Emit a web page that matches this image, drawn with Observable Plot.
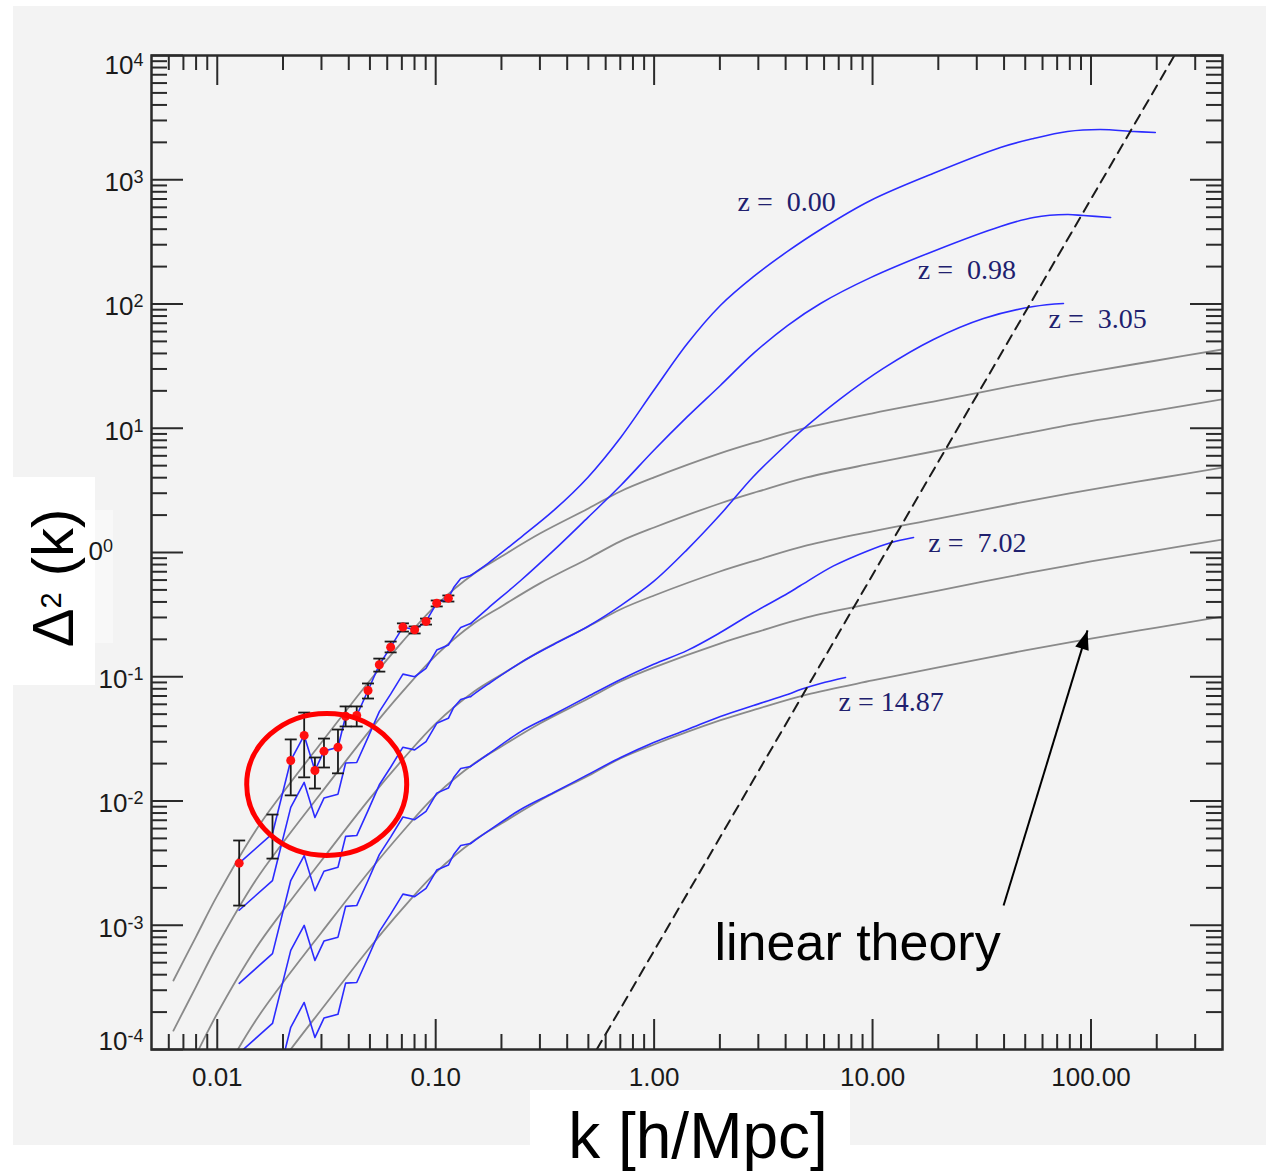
<!DOCTYPE html>
<html>
<head>
<meta charset="utf-8">
<script src="https://cdn.jsdelivr.net/npm/d3@7"></script>
<script src="https://cdn.jsdelivr.net/npm/@observablehq/plot@0.6"></script>
<style>
  html, body { margin: 0; padding: 0; background: #fff; }
  #page { position: relative; width: 1270px; height: 1175px; overflow: hidden;
          font-family: "Liberation Sans", Arial, Helvetica, sans-serif; }
  #panel { position: absolute; left: 13px; top: 6px; width: 1253px; height: 1139px; background: #f3f3f3; }
  #chart { position: absolute; left: 0; top: 0; }
  .box { position: absolute; background: #fff; }
  #ylabel { position: absolute; left: 53px; top: 578px; transform: translate(-50%, -50%) rotate(-90deg);
            font-size: 58px; line-height: 1; white-space: nowrap; color: #000; }
  #ylabel .sup { font-size: 0.5em; position: relative; top: -0.43em; }
  #xlabel { position: absolute; left: 698px; top: 1104px; transform: translateX(-50%);
            font-size: 64px; line-height: 1; white-space: nowrap; color: #000; }
  #unitLabel { position: absolute; right: 1157px; top: 538px; font-size: 26px; line-height: 1;
               white-space: nowrap; color: #1a1a1a; }
  #unitLabel .sup { font-size: 18px; position: relative; top: -8px; }
</style>
</head>
<body>
<div id="page">
  <div id="panel"></div>
  <div id="chart"></div>
  <div class="box" style="left:13px;top:477px;width:82px;height:208px"></div>
  <div class="box" style="left:95px;top:510px;width:18px;height:133px;background:#f8f8f8"></div>
  <div id="unitLabel">0<span class="sup">0</span></div>
  <div id="ylabel">Δ<span class="sup">2</span> (k)</div>
  <div class="box" style="left:530px;top:1090px;width:320px;height:85px"></div>
  <div id="xlabel">k [h/Mpc]</div>
</div>
<script>
// ---- linear-theory spectra (gray), one per redshift ----
const kLinear = [0.0063, 0.008, 0.01, 0.015, 0.02, 0.03, 0.05, 0.07, 0.1, 0.15, 0.2, 0.3, 0.5, 0.7, 1, 2, 3, 5, 10, 20, 50, 100, 200, 400];
const linZ000 = [3.59e-4, 8.11e-4, 1.73e-3, 5.79e-3, 0.0117, 0.0296, 0.0933, 0.189, 0.374, 0.678, 0.929, 1.42, 2.26, 3.10, 4.02, 6.27, 7.82, 10.1, 13.2, 16.7, 22.9, 28.6, 35.1, 43.1];
const linZ098 = [1.42e-4, 3.21e-4, 6.87e-4, 2.30e-3, 4.63e-3, 0.0117, 0.0370, 0.0748, 0.148, 0.269, 0.368, 0.564, 0.896, 1.23, 1.59, 2.48, 3.10, 4.02, 5.21, 6.62, 9.08, 11.4, 13.9, 17.1];
const linZ305 = [4.03e-5, 9.10e-5, 1.95e-4, 6.50e-4, 1.31e-3, 3.32e-3, 0.0105, 0.0212, 0.0420, 0.0760, 0.104, 0.160, 0.254, 0.348, 0.451, 0.703, 0.877, 1.14, 1.48, 1.87, 2.57, 3.21, 3.94, 4.83];
const linZ702 = [1.06e-5, 2.40e-5, 5.13e-5, 1.71e-4, 3.46e-4, 8.75e-4, 2.76e-3, 5.58e-3, 0.0111, 0.0200, 0.0275, 0.0421, 0.0668, 0.0916, 0.119, 0.185, 0.231, 0.300, 0.389, 0.494, 0.678, 0.847, 1.04, 1.27];
const linZ1487 = [2.55e-6, 5.75e-6, 1.23e-5, 4.11e-5, 8.30e-5, 2.10e-4, 6.62e-4, 1.34e-3, 2.65e-3, 4.81e-3, 6.59e-3, 0.0101, 0.0160, 0.0220, 0.0285, 0.0445, 0.0555, 0.0719, 0.0933, 0.119, 0.163, 0.203, 0.249, 0.305];

// ---- simulation spectra (blue) ----
const kBins = [0.0126, 0.0179, 0.0217, 0.0250, 0.0280, 0.0308, 0.0357, 0.0387, 0.0435, 0.0490, 0.0552, 0.0622, 0.0708, 0.0801, 0.0903, 0.1011, 0.1143];

const simKZ000 = kBins.concat([0.1209, 0.1302, 0.1445, 0.173, 0.245, 0.347, 0.497, 0.703, 0.995, 1.42, 2.01, 2.85, 4.08, 5.78, 9.79, 19.4, 38.5, 54.6, 78.0, 110, 157, 197]);
const simZ000 = [3.16e-3, 5.47e-3, 0.0212, 0.0337, 0.0176, 0.0252, 0.0271, 0.0481, 0.0488, 0.0775, 0.125, 0.173, 0.251, 0.239, 0.279, 0.391, 0.429,
                 0.522, 0.618, 0.653, 0.815, 1.32, 2.18, 4.02, 8.43, 20.1, 48.1, 97.3, 166, 265, 398, 681, 1143, 1818, 2148, 2445, 2537, 2445, 2399];

const simKZ098 = kBins.concat([0.1209, 0.1302, 0.1445, 0.173, 0.245, 0.347, 0.497, 0.703, 0.995, 1.42, 2.01, 2.85, 4.08, 5.78, 9.79, 19.4, 38.5, 54.6, 78.0, 92.4, 123]);
const simZ098 = [1.32e-3, 2.29e-3, 8.88e-3, 0.0141, 7.37e-3, 0.01056, 0.01135, 0.0202, 0.0204, 0.0325, 0.0524, 0.0725, 0.105, 0.100, 0.117, 0.164, 0.180,
                 0.211, 0.249, 0.268, 0.354, 0.595, 1.04, 1.91, 3.46, 6.62, 12.4, 22.1, 40.0, 67.1, 101, 163, 270, 421, 497, 525, 515, 497];

const simKZ305 = kBins.concat([0.1209, 0.1302, 0.1445, 0.173, 0.245, 0.347, 0.497, 0.703, 0.995, 1.42, 2.01, 2.85, 4.08, 4.68, 7.14, 11.2, 19.0, 32.2, 54.6, 74.8]);
const simZ305 = [3.41e-4, 5.91e-4, 2.29e-3, 3.64e-3, 1.90e-3, 2.72e-3, 2.93e-3, 5.19e-3, 5.27e-3, 8.37e-3, 0.0135, 0.0187, 0.0271, 0.0258, 0.0301, 0.0422, 0.0463,
                 0.0566, 0.0656, 0.0693, 0.0867, 0.130, 0.182, 0.254, 0.374, 0.585, 1.06, 2.02, 4.09, 7.54, 9.42, 17.3, 30.3, 51.8, 76.4, 95.5, 101];

const simKZ702 = kBins.concat([0.1209, 0.1302, 0.1445, 0.173, 0.245, 0.347, 0.497, 0.703, 0.995, 1.42, 2.01, 2.85, 4.08, 4.68, 6.63, 9.49, 12.1, 15.4]);
const simZ702 = [9.35e-5, 1.62e-4, 6.28e-4, 9.98e-4, 5.21e-4, 7.46e-4, 8.02e-4, 1.42e-3, 1.44e-3, 2.29e-3, 3.70e-3, 5.12e-3, 7.43e-3, 7.07e-3, 8.26e-3, 0.01157, 0.0127,
                 0.01545, 0.01828, 0.01897, 0.02366, 0.0362, 0.0497, 0.0693, 0.0951, 0.126, 0.163, 0.227, 0.329, 0.468, 0.542, 0.780, 1.03, 1.20, 1.32];

const simKZ1487 = kBins.concat([0.1209, 0.1302, 0.1445, 0.173, 0.245, 0.347, 0.497, 0.703, 0.995, 1.42, 2.01, 2.85, 4.08, 4.68, 5.78, 7.52]);
const simZ1487 = [2.24e-5, 3.88e-5, 1.51e-4, 2.39e-4, 1.25e-4, 1.79e-4, 1.92e-4, 3.42e-4, 3.46e-4, 5.50e-4, 8.88e-4, 1.23e-3, 1.78e-3, 1.70e-3, 1.98e-3, 2.78e-3, 3.05e-3,
                  3.71e-3, 4.39e-3, 4.55e-3, 5.69e-3, 8.55e-3, 0.0117, 0.0163, 0.0224, 0.0296, 0.0376, 0.0479, 0.0587, 0.0719, 0.0789, 0.0883, 0.0986];

// ---- measured band powers with 1-sigma errors ----
const obsK    = [0.0126, 0.0179, 0.0217, 0.0250, 0.0280, 0.0308, 0.0357, 0.0387, 0.0435, 0.0490, 0.0552, 0.0622, 0.0708, 0.0801, 0.0903, 0.1011, 0.1143];
const obsD    = [3.16e-3, 5.47e-3, 0.0212, 0.0337, 0.0176, 0.0252, 0.0271, 0.0481, 0.0488, 0.0775, 0.125, 0.173, 0.251, 0.239, 0.279, 0.391, 0.429];
const obsLo   = [1.44e-3, 3.44e-3, 0.0111, 0.0155, 0.0126, 0.0186, 0.0167, 0.0398, 0.0398, 0.0668, 0.110, 0.157, 0.231, 0.223, 0.263, 0.368, 0.403];
const obsHi   = [4.81e-3, 7.78e-3, 0.0313, 0.0515, 0.0224, 0.0318, 0.0376, 0.0577, 0.0577, 0.0883, 0.140, 0.192, 0.269, 0.254, 0.294, 0.411, 0.451];
const obsMark = [true, false, true, true, true, true, true, true, true, true, true, true, true, true, true, true, true];

// ---- shot-noise level (k^3) ----
const noiseK = [0.546, 241];
const noiseD = [1e-4, 1e4];

// ---- annotations ----
const zText = ["z = \u00a00.00", "z = \u00a00.98", "z = \u00a03.05", "z = \u00a07.02", "z = 14.87"];
const zTextK = [2.41, 16.1, 63.9, 18.0, 6.99];
const zTextD = [656, 186, 75.0, 1.20, 0.0621];
const noteText = "linear theory";
const noteK = 1.89, noteD = 7.1e-4;
const arrowFrom = {k: 39.8, d: 1.44e-3}, arrowTo = {k: 96.4, d: 0.236};
const ringCenter = {k: 0.0317, d: 0.0136};

// ---- axis ticks ----
const xMajor = [0.01, 0.1, 1, 10, 100];
const xTickLabels = ["0.01", "0.10", "1.00", "10.00", "100.00"];
const yMajor = [1e-4, 1e-3, 1e-2, 1e-1, 1, 10, 100, 1000, 10000];
const yExponents = [-4, -3, -2, -1, 0, 1, 2, 3, 4];

const xDomain = [0.005, 400], yDomain = [1e-4, 1e4];
const minorOf = (lo, hi) => {
  const out = [];
  for (let e = Math.floor(Math.log10(lo)); e <= Math.ceil(Math.log10(hi)); e++)
    for (let m = 2; m <= 9; m++) { const v = m * Math.pow(10, e); if (v > lo * 1.0001 && v < hi * 0.9999) out.push(v); }
  return out;
};
const xMinor = minorOf(...xDomain);
const yMinor = minorOf(...yDomain);

const rows = (ks, ds) => ks.map((k, i) => ({k, d: ds[i]}));
const linear = [linZ000, linZ098, linZ305, linZ702, linZ1487].map(s => rows(kLinear, s));
const sims = [[simKZ000, simZ000], [simKZ098, simZ098], [simKZ305, simZ305], [simKZ702, simZ702], [simKZ1487, simZ1487]].map(([k, d]) => rows(k, d));
const obs = obsK.map((k, i) => ({k, d: obsD[i], lo: obsLo[i], hi: obsHi[i], mark: obsMark[i]}));
const labels = zText.map((t, i) => ({t, k: zTextK[i], d: zTextD[i]}));
const yLabelTicks = yMajor.filter(v => v !== 1);   // the 10^0 label sits beside the axis title

// the noisy low-k bins are joined point to point; the smooth tail uses a spline
const splitAt = 19;
const simLow = sims.map(s => s.slice(0, splitAt + 1));
const simHigh = sims.map(s => s.slice(splitAt));

const W = 1270, H = 1175;
const M = {top: 55, right: 48, bottom: 126, left: 151};
const innerW = W - M.left - M.right, innerH = H - M.top - M.bottom;
const tickColor = "#2a2a2a";
const blue = "#2b2bff";

// custom symbols: error-bar cap, annotation ring, filled arrow head
const capSymbol = {draw(ctx) { ctx.moveTo(-6, 0); ctx.lineTo(6, 0); }};
const ringSymbol = {draw(ctx) {
  const a = 80, b = 71, c = 0.5523;
  ctx.moveTo(a, 0);
  ctx.bezierCurveTo(a, b * c, a * c, b, 0, b);
  ctx.bezierCurveTo(-a * c, b, -a, b * c, -a, 0);
  ctx.bezierCurveTo(-a, -b * c, -a * c, -b, 0, -b);
  ctx.bezierCurveTo(a * c, -b, a, -b * c, a, 0);
  ctx.closePath();
}};
const headSymbol = {draw(ctx) { ctx.moveTo(0, 0); ctx.lineTo(7, 19); ctx.lineTo(-7, 19); ctx.closePath(); }};

const fontSans = "'Liberation Sans', Arial, Helvetica, sans-serif";
const expFormat = d => "10^" + yExponents[yMajor.indexOf(d)];

const chart = Plot.plot({
  width: W, height: H,
  marginTop: M.top, marginRight: M.right, marginBottom: M.bottom, marginLeft: M.left,
  x: {type: "log", domain: xDomain},
  y: {type: "log", domain: yDomain},
  style: {background: "none", color: "#1a1a1a", fontFamily: fontSans, overflow: "visible"},
  marks: [
    // linear theory
    ...linear.map(s => Plot.line(s, {x: "k", y: "d", stroke: "#8a8a8a", strokeWidth: 1.8, curve: "catmull-rom", clip: true})),
    // simulations
    ...simLow.map(s => Plot.line(s, {x: "k", y: "d", stroke: blue, strokeWidth: 1.6, clip: true})),
    ...simHigh.map(s => Plot.line(s, {x: "k", y: "d", stroke: blue, strokeWidth: 1.6, curve: "catmull-rom", clip: true})),
    // shot noise
    Plot.line(rows(noiseK, noiseD), {x: "k", y: "d", stroke: "#1a1a1a", strokeWidth: 2, strokeDasharray: "10,7", clip: true}),
    // error bars and points
    Plot.ruleX(obs, {x: "k", y1: "lo", y2: "hi", stroke: "#1a1a1a", strokeWidth: 1.8}),
    Plot.dot(obs, {x: "k", y: "lo", symbol: capSymbol, fill: "none", stroke: "#1a1a1a", strokeWidth: 1.8}),
    Plot.dot(obs, {x: "k", y: "hi", symbol: capSymbol, fill: "none", stroke: "#1a1a1a", strokeWidth: 1.8}),
    Plot.dot(obs.filter(o => o.mark), {x: "k", y: "d", r: 4.5, fill: "#ff1010", stroke: "none"}),
    // highlighted region
    Plot.dot([ringCenter], {x: "k", y: "d", symbol: ringSymbol, fill: "none", stroke: "#ff0000", strokeWidth: 5}),
    // redshift labels
    Plot.text(labels, {x: "k", y: "d", text: "t", textAnchor: "start", fontFamily: "'Liberation Serif', 'Times New Roman', serif", fontSize: 28, fill: "#20206e"}),
    // "linear theory" note with arrow
    Plot.text([{k: noteK, d: noteD}], {x: "k", y: "d", text: () => noteText, textAnchor: "start", fontSize: 52, fill: "#000"}),
    Plot.link([{a: arrowFrom, b: arrowTo}], {x1: o => o.a.k, y1: o => o.a.d, x2: o => o.b.k, y2: o => o.b.d, stroke: "#000", strokeWidth: 2}),
    Plot.dot([arrowTo], {x: "k", y: "d", symbol: headSymbol, rotate: 17, fill: "#000", stroke: "none"}),
    // inward ticks on all four sides
    Plot.tickX(xMinor, {x: d => d, insetTop: innerH - 15, stroke: tickColor, strokeWidth: 2}),
    Plot.tickX(xMinor, {x: d => d, insetBottom: innerH - 15, stroke: tickColor, strokeWidth: 2}),
    Plot.tickX(xMajor, {x: d => d, insetTop: innerH - 30, stroke: tickColor, strokeWidth: 2}),
    Plot.tickX(xMajor, {x: d => d, insetBottom: innerH - 30, stroke: tickColor, strokeWidth: 2}),
    Plot.tickY(yMinor, {y: d => d, insetRight: innerW - 16, stroke: tickColor, strokeWidth: 2}),
    Plot.tickY(yMinor, {y: d => d, insetLeft: innerW - 16, stroke: tickColor, strokeWidth: 2}),
    Plot.tickY(yMajor, {y: d => d, insetRight: innerW - 32, stroke: tickColor, strokeWidth: 2}),
    Plot.tickY(yMajor, {y: d => d, insetLeft: innerW - 32, stroke: tickColor, strokeWidth: 2}),
    Plot.frame({stroke: tickColor, strokeWidth: 2.5}),
    // tick labels (end labels are nudged inside the frame)
    Plot.axisX(xMajor, {anchor: "bottom", tickSize: 0, tickPadding: 18, fontSize: 26, label: null,
      tickFormat: d => xTickLabels[xMajor.indexOf(d)]}),
    Plot.axisY(yLabelTicks.slice(1, -1), {anchor: "left", tickSize: 0, tickPadding: 8, fontSize: 26, dy: 3, label: null, tickFormat: expFormat}),
    Plot.axisY([yMajor[yMajor.length - 1]], {anchor: "left", tickSize: 0, tickPadding: 8, fontSize: 26, dy: 10, label: null, tickFormat: expFormat}),
    Plot.axisY([yMajor[0]], {anchor: "left", tickSize: 0, tickPadding: 8, fontSize: 26, dy: -8, label: null, tickFormat: expFormat})
  ]
});

// turn "10^n" labels into a base with a raised exponent
chart.querySelectorAll("text").forEach(t => {
  const s = t.textContent;
  if (!s.startsWith("10^")) return;
  const exp = s.slice(3);
  t.textContent = "10";
  const ts = document.createElementNS("http://www.w3.org/2000/svg", "tspan");
  ts.setAttribute("dy", "-8");
  ts.setAttribute("font-size", "18");
  ts.textContent = exp;
  t.appendChild(ts);
});

document.getElementById("chart").appendChild(chart);
</script>
</body>
</html>
